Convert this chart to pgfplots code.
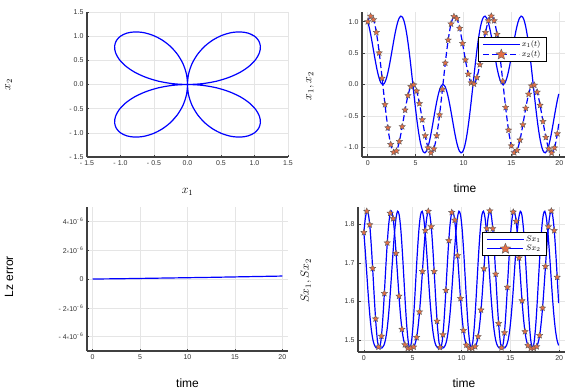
\documentclass[border=0pt]{standalone}
\usepackage{fontspec}
\setmainfont{Liberation Sans}
\usepackage{pgfplots}
\pgfplotsset{compat=1.18}
\usepackage{pgfplotstable}

\definecolor{lineblue}{rgb}{0,0,1}
\definecolor{starfill}{HTML}{E26F46}

% filled five-pointed star
\pgfdeclareplotmark{fstar}{%
  \pgfpathmoveto{\pgfpointpolar{90}{\pgfplotmarksize}}%
  \pgfpathlineto{\pgfpointpolar{126}{0.45\pgfplotmarksize}}%
  \pgfpathlineto{\pgfpointpolar{162}{\pgfplotmarksize}}%
  \pgfpathlineto{\pgfpointpolar{198}{0.45\pgfplotmarksize}}%
  \pgfpathlineto{\pgfpointpolar{234}{\pgfplotmarksize}}%
  \pgfpathlineto{\pgfpointpolar{270}{0.45\pgfplotmarksize}}%
  \pgfpathlineto{\pgfpointpolar{306}{\pgfplotmarksize}}%
  \pgfpathlineto{\pgfpointpolar{342}{0.45\pgfplotmarksize}}%
  \pgfpathlineto{\pgfpointpolar{18}{\pgfplotmarksize}}%
  \pgfpathlineto{\pgfpointpolar{54}{0.45\pgfplotmarksize}}%
  \pgfpathclose
  \pgfusepathqfillstroke}

\pgfplotsset{
  grstyle/.style={
    scale only axis,
    anchor=south west,
    axis x line*=bottom,
    axis y line*=left,
    axis line style={black!75, line width=1.2pt},
    tick align=inside,
    major tick length=2.5pt,
    tick style={black!75, line width=0.6pt},
    grid=major,
    grid style={black!10, line width=0.5pt},
    ticklabel style={font=\fontsize{7}{8}\selectfont, text=black!80},
    label style={font=\fontsize{12}{13}\selectfont},
    legend cell align=left,
    legend style={draw=black, line width=0.8pt, fill=white,
      font=\fontsize{8}{9}\selectfont, inner xsep=4pt, inner ysep=1.5pt,
      row sep=-1.5pt, anchor=north east},
    legend image code/.code={%
      \draw[mark repeat=2,mark phase=2,#1] plot coordinates {(0pt,0pt) (18pt,0pt) (36pt,0pt)};},
  },
}

% t, x1(t), x2(t), Sx1(t), Sx2(t)
\pgfplotstableread{
t x1 x2 s1 s2
0.000 1.000 1.000 1.779 1.779
0.157 0.907 1.062 1.726 1.817
0.314 0.791 1.088 1.667 1.834
0.471 0.658 1.074 1.609 1.825
0.628 0.519 1.019 1.560 1.791
0.785 0.383 0.924 1.523 1.735
0.942 0.257 0.791 1.499 1.667
1.100 0.150 0.624 1.486 1.596
1.257 0.068 0.432 1.480 1.535
1.414 0.017 0.221 1.479 1.494
1.571 0.000 0.000 1.479 1.479
1.728 0.017 -0.221 1.479 1.494
1.885 0.068 -0.432 1.480 1.535
2.042 0.150 -0.624 1.486 1.596
2.199 0.257 -0.791 1.499 1.667
2.356 0.383 -0.924 1.523 1.735
2.513 0.519 -1.019 1.560 1.791
2.670 0.658 -1.074 1.609 1.825
2.827 0.791 -1.088 1.667 1.834
2.985 0.907 -1.062 1.726 1.817
3.142 1.000 -1.000 1.779 1.779
3.299 1.062 -0.907 1.817 1.726
3.456 1.088 -0.791 1.834 1.667
3.613 1.074 -0.658 1.825 1.609
3.770 1.019 -0.519 1.791 1.560
3.927 0.924 -0.383 1.735 1.523
4.084 0.791 -0.257 1.667 1.499
4.241 0.624 -0.150 1.596 1.486
4.398 0.432 -0.068 1.535 1.480
4.555 0.221 -0.017 1.494 1.479
4.712 0.000 0.000 1.479 1.479
4.869 -0.221 -0.017 1.494 1.479
5.027 -0.432 -0.068 1.535 1.480
5.184 -0.624 -0.150 1.596 1.486
5.341 -0.791 -0.257 1.667 1.499
5.498 -0.924 -0.383 1.735 1.523
5.655 -1.019 -0.519 1.791 1.560
5.812 -1.074 -0.658 1.825 1.609
5.969 -1.088 -0.791 1.834 1.667
6.126 -1.062 -0.907 1.817 1.726
6.283 -1.000 -1.000 1.779 1.779
6.440 -0.907 -1.062 1.726 1.817
6.597 -0.791 -1.088 1.667 1.834
6.754 -0.658 -1.074 1.609 1.825
6.912 -0.519 -1.019 1.560 1.791
7.069 -0.383 -0.924 1.523 1.735
7.226 -0.257 -0.791 1.499 1.667
7.383 -0.150 -0.624 1.486 1.596
7.540 -0.068 -0.432 1.480 1.535
7.697 -0.017 -0.221 1.479 1.494
7.854 0.000 0.000 1.479 1.479
8.011 -0.017 0.221 1.479 1.494
8.168 -0.068 0.432 1.480 1.535
8.325 -0.150 0.624 1.486 1.596
8.482 -0.257 0.791 1.499 1.667
8.639 -0.383 0.924 1.523 1.735
8.796 -0.519 1.019 1.560 1.791
8.954 -0.658 1.074 1.609 1.825
9.111 -0.791 1.088 1.667 1.834
9.268 -0.907 1.062 1.726 1.817
9.425 -1.000 1.000 1.779 1.779
9.582 -1.062 0.907 1.817 1.726
9.739 -1.088 0.791 1.834 1.667
9.896 -1.074 0.658 1.825 1.609
10.053 -1.019 0.519 1.791 1.560
10.210 -0.924 0.383 1.735 1.523
10.367 -0.791 0.257 1.667 1.499
10.524 -0.624 0.150 1.596 1.486
10.681 -0.432 0.068 1.535 1.480
10.838 -0.221 0.017 1.494 1.479
10.996 0.000 0.000 1.479 1.479
11.153 0.221 0.017 1.494 1.479
11.310 0.432 0.068 1.535 1.480
11.467 0.624 0.150 1.596 1.486
11.624 0.791 0.257 1.667 1.499
11.781 0.924 0.383 1.735 1.523
11.938 1.019 0.519 1.791 1.560
12.095 1.074 0.658 1.825 1.609
12.252 1.088 0.791 1.834 1.667
12.409 1.062 0.907 1.817 1.726
12.566 1.000 1.000 1.779 1.779
12.723 0.907 1.062 1.726 1.817
12.881 0.791 1.088 1.667 1.834
13.038 0.658 1.074 1.609 1.825
13.195 0.519 1.019 1.560 1.791
13.352 0.383 0.924 1.523 1.735
13.509 0.257 0.791 1.499 1.667
13.666 0.150 0.624 1.486 1.596
13.823 0.068 0.432 1.480 1.535
13.980 0.017 0.221 1.479 1.494
14.137 0.000 0.000 1.479 1.479
14.294 0.017 -0.221 1.479 1.494
14.451 0.068 -0.432 1.480 1.535
14.608 0.150 -0.624 1.486 1.596
14.765 0.257 -0.791 1.499 1.667
14.923 0.383 -0.924 1.523 1.735
15.080 0.519 -1.019 1.560 1.791
15.237 0.658 -1.074 1.609 1.825
15.394 0.791 -1.088 1.667 1.834
15.551 0.907 -1.062 1.726 1.817
15.708 1.000 -1.000 1.779 1.779
15.865 1.062 -0.907 1.817 1.726
16.022 1.088 -0.791 1.834 1.667
16.179 1.074 -0.658 1.825 1.609
16.336 1.019 -0.519 1.791 1.560
16.493 0.924 -0.383 1.735 1.523
16.650 0.791 -0.257 1.667 1.499
16.808 0.624 -0.150 1.596 1.486
16.965 0.432 -0.068 1.535 1.480
17.122 0.221 -0.017 1.494 1.479
17.279 0.000 0.000 1.479 1.479
17.436 -0.221 -0.017 1.494 1.479
17.593 -0.432 -0.068 1.535 1.480
17.750 -0.624 -0.150 1.596 1.486
17.907 -0.791 -0.257 1.667 1.499
18.064 -0.924 -0.383 1.735 1.523
18.221 -1.019 -0.519 1.791 1.560
18.378 -1.074 -0.658 1.825 1.609
18.535 -1.088 -0.791 1.834 1.667
18.692 -1.062 -0.907 1.817 1.726
18.850 -1.000 -1.000 1.779 1.779
19.007 -0.907 -1.062 1.726 1.817
19.164 -0.791 -1.088 1.667 1.834
19.321 -0.658 -1.074 1.609 1.825
19.478 -0.519 -1.019 1.560 1.791
19.635 -0.383 -0.924 1.523 1.735
19.792 -0.257 -0.791 1.499 1.667
19.949 -0.150 -0.624 1.486 1.596
}\traj

% saved steps, drawn as stars
\pgfplotstableread{
t x2 s2
0.0 1.000 1.779
0.3 1.088 1.834
0.6 1.032 1.799
0.9 0.830 1.686
1.2 0.504 1.555
1.5 0.100 1.482
1.8 -0.319 1.510
2.1 -0.689 1.621
2.4 -0.954 1.752
2.7 -1.080 1.829
3.0 -1.058 1.815
3.3 -0.906 1.725
3.6 -0.670 1.614
3.9 -0.406 1.528
4.2 -0.176 1.488
4.5 -0.032 1.479
4.8 -0.005 1.479
5.1 -0.103 1.482
5.4 -0.303 1.507
5.7 -0.560 1.573
6.0 -0.815 1.678
6.3 -1.008 1.784
6.6 -1.088 1.834
6.9 -1.025 1.794
7.2 -0.815 1.678
7.5 -0.483 1.549
7.8 -0.076 1.481
8.1 0.342 1.514
8.4 0.707 1.629
8.7 0.965 1.758
9.0 1.083 1.831
9.3 1.052 1.811
9.6 0.895 1.719
9.9 0.655 1.608
10.2 0.391 1.525
10.5 0.165 1.487
10.8 0.027 1.479
11.1 0.008 1.479
11.4 0.112 1.483
11.7 0.316 1.509
12.0 0.574 1.578
12.3 0.828 1.685
12.6 1.016 1.789
12.9 1.089 1.835
13.2 1.017 1.789
13.5 0.799 1.671
13.8 0.461 1.543
14.1 0.053 1.480
14.4 -0.364 1.519
14.7 -0.725 1.637
15.0 -0.976 1.765
15.3 -1.085 1.832
15.6 -1.047 1.808
15.9 -0.883 1.713
16.2 -0.640 1.602
16.5 -0.377 1.522
16.8 -0.154 1.486
17.1 -0.022 1.479
17.4 -0.010 1.479
17.7 -0.121 1.483
18.0 -0.330 1.512
18.3 -0.589 1.583
18.6 -0.841 1.691
18.9 -1.024 1.794
19.2 -1.089 1.835
19.5 -1.008 1.784
19.8 -0.783 1.663
}\stars

\begin{document}
\begin{tikzpicture}
\useasboundingbox (0,0) rectangle (584pt,389pt);

% top left: phase portrait
\begin{axis}[grstyle, at={(87pt,232pt)}, width=201pt, height=145pt,
  xmin=-1.5, xmax=1.5, ymin=-1.5, ymax=1.5,
  xtick={-1.5,-1,-0.5,0,0.5,1,1.5}, ytick={-1.5,-1,-0.5,0,0.5,1,1.5},
  xticklabels={- 1.5,- 1.0,- 0.5,0.0,0.5,1.0,1.5},
  yticklabels={- 1.5,- 1.0,- 0.5,0.0,0.5,1.0,1.5},
  xlabel={$x_1$}, ylabel={$x_2$},
  xlabel style={at={(axis description cs:0.5,-0.241)}, anchor=center},
  ylabel style={at={(axis description cs:-0.39,0.497)}, anchor=center},
]
\addplot[lineblue, line width=1.2pt, smooth] table[x=x1, y=x2] {\traj};
\end{axis}

% top right: x1, x2 over time
\begin{axis}[grstyle, at={(362pt,232pt)}, width=203pt, height=145pt,
  xmin=-0.6, xmax=20.6, ymin=-1.154, ymax=1.154,
  xtick={0,5,10,15,20}, ytick={-1,-0.5,0,0.5,1},
  xticklabels={0,5,10,15,20},
  yticklabels={- 1.0,- 0.5,0.0,0.5,1.0},
  xlabel={time}, ylabel={$x_1, x_2$},
  xlabel style={at={(axis description cs:0.507,-0.214)}, anchor=center},
  ylabel style={at={(axis description cs:-0.256,0.49)}, anchor=center},
  legend style={at={(0.911,0.828)}},
]
\addplot[lineblue, line width=1.2pt, smooth] table[x=t, y=x1] {\traj};
\addlegendentry{$x_1(t)$}
\addplot[lineblue, line width=1.2pt, smooth, dash pattern=on 6pt off 3pt, forget plot]
  table[x=t, y=x2] {\traj};
\addplot[only marks, mark=fstar, mark size=3.3pt,
  mark options={fill=starfill, draw=black!65, line width=0.35pt}, forget plot]
  table[x=t, y=x2] {\stars};
\addlegendimage{lineblue, line width=1.2pt, dash pattern=on 6pt off 3pt, mark=fstar,
  mark size=5.5pt, mark options={solid, fill=starfill, draw=black!65, line width=0.35pt}}
\addlegendentry{$x_2(t)$}
\end{axis}

% bottom left: Lz error
\begin{axis}[grstyle, at={(87pt,38pt)}, width=201pt, height=144pt,
  xmin=-0.6, xmax=20.6, ymin=-5e-6, ymax=5e-6,
  scaled y ticks=false,
  xtick={0,5,10,15,20}, ytick={-4e-6,-2e-6,0,2e-6,4e-6},
  xticklabels={0,5,10,15,20},
  yticklabels={- 4{\fontsize{4.5}{5}\selectfont\texttimes}10\textsuperscript{- 6},
    - 2{\fontsize{4.5}{5}\selectfont\texttimes}10\textsuperscript{- 6},
    0,
    2{\fontsize{4.5}{5}\selectfont\texttimes}10\textsuperscript{- 6},
    4{\fontsize{4.5}{5}\selectfont\texttimes}10\textsuperscript{- 6}},
  xlabel={time}, ylabel={Lz error},
  xlabel style={at={(axis description cs:0.5,-0.222)}, anchor=center},
  ylabel style={at={(axis description cs:-0.388,0.514)}, anchor=center},
]
\addplot[lineblue, line width=1.2pt] coordinates {
  (0,0) (2.5,1.5e-8) (5,4e-8) (7.5,6.5e-8) (10,9e-8) (12.5,1.15e-7)
  (15,1.45e-7) (17.5,1.75e-7) (20,2.05e-7)};
\end{axis}

% bottom right: Sx1, Sx2
\begin{axis}[grstyle, at={(358pt,37pt)}, width=207pt, height=145pt,
  xmin=-0.6, xmax=20.6, ymin=1.469, ymax=1.845,
  xtick={0,5,10,15,20}, ytick={1.5,1.6,1.7,1.8},
  xticklabels={0,5,10,15,20},
  yticklabels={1.5,1.6,1.7,1.8},
  xlabel={time}, ylabel={$Sx_1, Sx_2$},
  xlabel style={at={(axis description cs:0.512,-0.214)}, anchor=center},
  ylabel style={at={(axis description cs:-0.251,0.49)}, anchor=center},
  legend style={at={(0.913,0.828)}},
]
\addplot[lineblue, line width=1.2pt, smooth] table[x=t, y=s1] {\traj};
\addlegendentry{$Sx_1$}
\addplot[lineblue, line width=1.2pt, smooth, forget plot] table[x=t, y=s2] {\traj};
\addplot[only marks, mark=fstar, mark size=3.3pt,
  mark options={fill=starfill, draw=black!65, line width=0.35pt}, forget plot]
  table[x=t, y=s2] {\stars};
\addlegendimage{lineblue, line width=1.2pt, mark=fstar, mark size=5.5pt,
  mark options={fill=starfill, draw=black!65, line width=0.35pt}}
\addlegendentry{$Sx_2$}
\end{axis}

\end{tikzpicture}
\end{document}
